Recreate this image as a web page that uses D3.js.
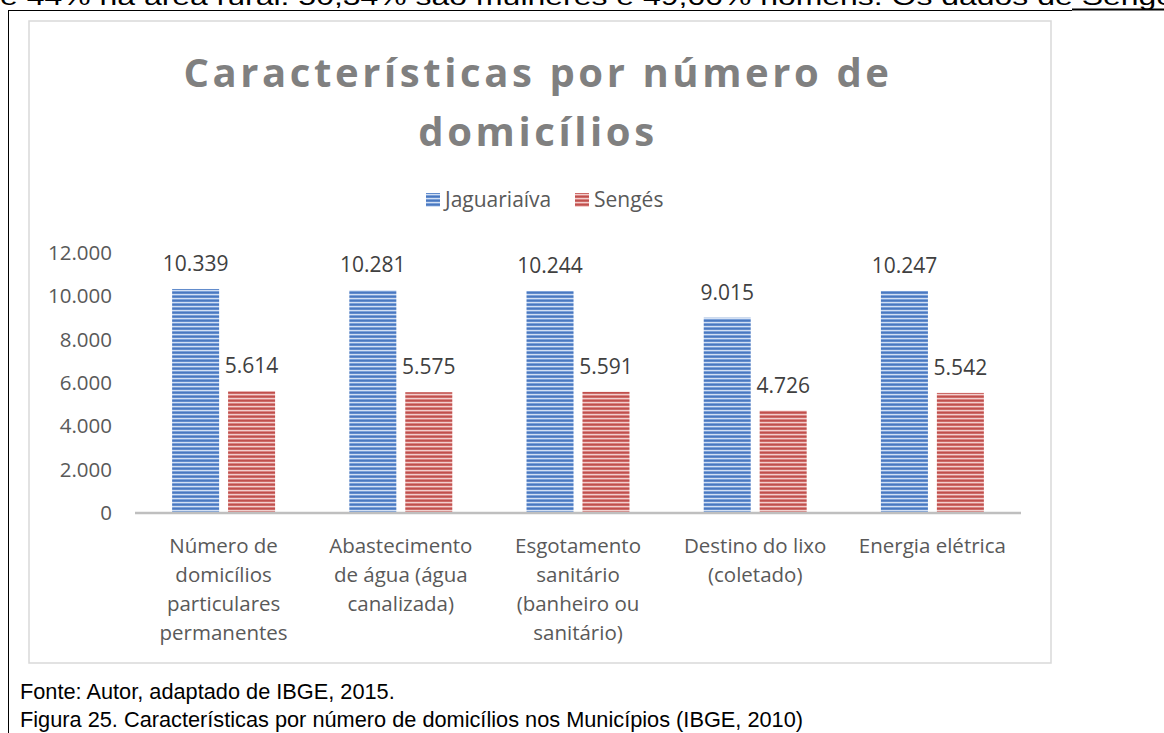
<!DOCTYPE html>
<html>
<head>
<meta charset="utf-8">
<title>Características por número de domicílios</title>
<script src="https://d3js.org/d3.v7.min.js"></script>
<style>
  body { margin: 0; background: #fff; }
  svg { display: block; }
</style>
</head>
<body>
<svg id="chart" width="1164" height="733"></svg>
<script>
// données
const categories = [
  ["Número de", "domicílios", "particulares", "permanentes"],
  ["Abastecimento", "de água (água", "canalizada)"],
  ["Esgotamento", "sanitário", "(banheiro ou", "sanitário)"],
  ["Destino do lixo", "(coletado)"],
  ["Energia elétrica"]
];
const seriesNames = ["Jaguariaíva", "Sengés"];
const jaguariaiva = [10339, 10281, 10244, 9015, 10247];
const senges = [5614, 5575, 5591, 4726, 5542];
const yTicks = [0, 2000, 4000, 6000, 8000, 10000, 12000];

const svg = d3.select("#chart");
const fmt = v => d3.format(",")(v).replace(/,/g, ".");
const docFont = "Liberation Sans, Arial, sans-serif";

// texte du document autour du graphique
svg.append("text")
  .attr("x", 0).attr("y", 5)
  .attr("font-family", docFont)
  .attr("font-size", 23)
  .attr("fill", "#000")
  .attr("textLength", 1190).attr("lengthAdjust", "spacingAndGlyphs")
  .text("e 44% na área rural. 50,34% são mulheres e 49,66% homens. Os dados de Sengés");
svg.append("line").attr("x1", 1072).attr("x2", 1164).attr("y1", 9.5).attr("y2", 9.5)
  .attr("stroke", "#000").attr("stroke-width", 2);
svg.append("line").attr("x1", 8).attr("x2", 1072).attr("y1", 10.5).attr("y2", 10.5)
  .attr("stroke", "#000").attr("stroke-width", 1);
svg.append("line").attr("x1", 8.5).attr("x2", 8.5).attr("y1", 10).attr("y2", 733)
  .attr("stroke", "#000").attr("stroke-width", 1);

// cadre du graphique
svg.append("rect")
  .attr("x", 29).attr("y", 21).attr("width", 1022).attr("height", 642)
  .attr("fill", "#fff").attr("stroke", "#d9d9d9").attr("stroke-width", 1.5);

// motifs rayés
const defs = svg.append("defs");
function stripes(id, base, dark, light) {
  const p = defs.append("pattern").attr("id", id)
    .attr("patternUnits", "userSpaceOnUse").attr("width", 8).attr("height", 4);
  p.append("rect").attr("width", 8).attr("height", 4).attr("fill", base);
  p.append("rect").attr("y", 0).attr("width", 8).attr("height", 1.5).attr("fill", dark);
  p.append("rect").attr("y", 2).attr("width", 8).attr("height", 1).attr("fill", light);
}
stripes("pBlue", "#7aa0d8", "#4a78c0", "#d3e0f4");
stripes("pRed", "#d98482", "#c0504d", "#f2cfce");
const colors = ["url(#pBlue)", "url(#pRed)"];

// échelles
const x0 = d3.scaleBand().domain(d3.range(categories.length)).range([135, 1021]).paddingInner(0.419).paddingOuter(0.2095);
const x1 = d3.scaleBand().domain([0, 1]).range([0, x0.bandwidth()]).paddingInner(0.16);
const y = d3.scaleLinear().domain([0, 12000]).range([513, 253]);

const font = "'Open Sans', sans-serif";

// titre
const title = svg.append("text")
  .attr("text-anchor", "middle")
  .attr("font-family", font).attr("font-weight", "bold")
  .attr("font-size", 40).attr("fill", "#808080")
  .attr("letter-spacing", 3.6);
title.append("tspan").attr("x", 538).attr("y", 87).text("Características por número de");
title.append("tspan").attr("x", 538).attr("y", 146).text("domicílios");

// légende
const legend = svg.append("g");
const legX = [426, 575];
seriesNames.forEach((name, i) => {
  legend.append("rect").attr("x", legX[i]).attr("y", 193).attr("width", 14).attr("height", 14)
    .attr("fill", colors[i]);
  legend.append("text").attr("x", legX[i] + 19).attr("y", 207)
    .attr("font-family", font).attr("font-size", 21).attr("fill", "#595959")
    .text(name);
});

// axe Y (libellés seulement)
const yAxis = svg.append("g").attr("transform", "translate(112,0)")
  .call(d3.axisLeft(y).tickValues(yTicks).tickFormat(fmt).tickSize(0).tickPadding(0));
yAxis.select(".domain").remove();
yAxis.selectAll("text").attr("font-family", font).attr("font-size", 20.5).attr("fill", "#595959");

// barres
const data = categories.map((c, i) => [jaguariaiva[i], senges[i]]);
const groups = svg.append("g").selectAll("g").data(data).join("g")
  .attr("transform", (d, i) => `translate(${x0(i)},0)`);
groups.selectAll("rect").data(d => d).join("rect")
  .attr("x", (d, j) => x1(j)).attr("width", x1.bandwidth())
  .attr("y", d => y(d)).attr("height", d => y(0) - y(d))
  .attr("fill", (d, j) => colors[j]);
groups.selectAll("text").data(d => d).join("text")
  .attr("x", (d, j) => x1(j) + x1.bandwidth() / 2)
  .attr("y", d => y(d) - 18)
  .attr("text-anchor", "middle")
  .attr("font-family", font).attr("font-size", 21).attr("fill", "#404040")
  .text(fmt);

// ligne de base
svg.append("line").attr("x1", 135).attr("x2", 1021).attr("y1", y(0)).attr("y2", y(0))
  .attr("stroke", "#bfbfbf").attr("stroke-width", 2.5);

// libellés des catégories
categories.forEach((lines, i) => {
  const t = svg.append("text").attr("text-anchor", "middle")
    .attr("font-family", font).attr("font-size", 20.5).attr("fill", "#595959");
  lines.forEach((ln, k) => {
    t.append("tspan").attr("x", x0(i) + x0.bandwidth() / 2).attr("y", 553 + k * 29).text(ln);
  });
});

// légendes sous le graphique (même compression horizontale pour les deux lignes)
const fig = svg.append("text").attr("x", 20).attr("y", 727)
  .attr("font-family", docFont).attr("font-size", 22)
  .text("Figura 25. Características por número de domicílios nos Municípios (IBGE, 2010)");
const src = svg.append("text").attr("x", 20).attr("y", 699)
  .attr("font-family", docFont).attr("font-size", 22)
  .text("Fonte: Autor, adaptado de IBGE, 2015.");
const k = 783 / fig.node().getComputedTextLength();
src.attr("textLength", src.node().getComputedTextLength() * k).attr("lengthAdjust", "spacingAndGlyphs");
fig.attr("textLength", 783).attr("lengthAdjust", "spacingAndGlyphs");
</script>
</body>
</html>
